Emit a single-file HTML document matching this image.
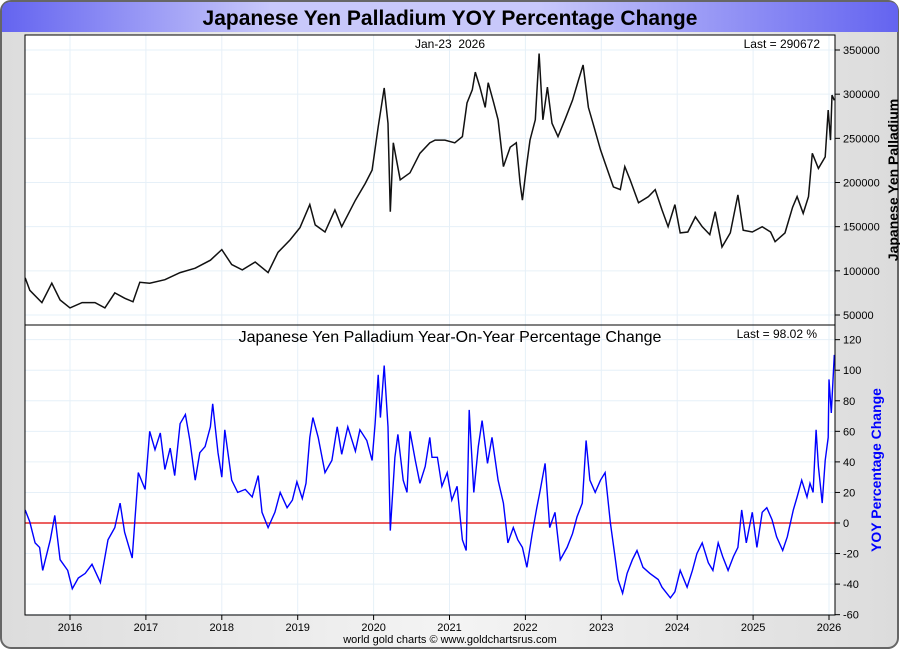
<!DOCTYPE html>
<html><head><meta charset="utf-8"><style>
body{margin:0;width:900px;height:650px;overflow:hidden;background:#fff;font-family:"Liberation Sans",sans-serif}
</style></head><body>
<svg id="chart" width="900" height="650" xmlns="http://www.w3.org/2000/svg" font-family="Liberation Sans, sans-serif">
<defs>
<linearGradient id="bg" x1="0" x2="1" y1="0" y2="0"><stop offset="0" stop-color="#dcdcdc"/><stop offset="0.5" stop-color="#f4f4f4"/><stop offset="1" stop-color="#dcdcdc"/></linearGradient>
<linearGradient id="tb" x1="0" x2="1" y1="0" y2="0"><stop offset="0" stop-color="#6464f0"/><stop offset="0.3" stop-color="#c8c8fa"/><stop offset="0.6" stop-color="#c8c8fa"/><stop offset="1" stop-color="#6464f0"/></linearGradient>
</defs>
<rect x="1" y="1" width="897" height="647" rx="10" fill="url(#bg)" stroke="#666" stroke-width="2"/>
<path d="M2,32 L2,11 Q2,2 11,2 L889,2 Q898,2 898,11 L898,32 Z" fill="url(#tb)"/>
<text x="450" y="25" text-anchor="middle" font-size="21" font-weight="bold" fill="#000">Japanese Yen Palladium YOY Percentage Change</text>
<rect x="25" y="35" width="810" height="580" fill="#fff"/>
<g id="grid"></g>
<g id="series"></g>
<rect x="25" y="35" width="810" height="580" fill="none" stroke="#000" stroke-width="1"/>
<line x1="25" y1="325" x2="835" y2="325" stroke="#000"/>
<g id="axes" font-size="11" fill="#000"></g>
<text x="450" y="48" text-anchor="middle" font-size="12">Jan-23&#160;&#160;2026</text>
<text x="820" y="48" text-anchor="end" font-size="12">Last = 290672</text>
<text x="450" y="342" text-anchor="middle" font-size="16">Japanese Yen Palladium Year-On-Year Percentage Change</text>
<text x="817" y="338" text-anchor="end" font-size="12">Last = 98.02 %</text>
<text transform="translate(898,180) rotate(-90)" text-anchor="middle" font-size="14" font-weight="bold" fill="#000">Japanese Yen Palladium</text>
<text transform="translate(881,470) rotate(-90)" text-anchor="middle" font-size="14" font-weight="bold" fill="#0000ff">YOY Percentage Change</text>
<text x="450" y="643" text-anchor="middle" font-size="11" fill="#000">world gold charts © www.goldchartsrus.com</text>
</svg>
<script>
const priceDates=[2015.41,2015.47,2015.63,2015.76,2015.87,2016.00,2016.16,2016.33,2016.46,2016.59,2016.72,2016.83,2016.92,2017.05,2017.25,2017.45,2017.65,2017.85,2018.00,2018.13,2018.27,2018.44,2018.61,2018.74,2018.90,2019.03,2019.16,2019.23,2019.36,2019.49,2019.58,2019.76,2019.89,2019.98,2020.06,2020.14,2020.19,2020.22,2020.26,2020.35,2020.48,2020.61,2020.74,2020.81,2020.94,2021.07,2021.17,2021.23,2021.30,2021.34,2021.40,2021.47,2021.51,2021.58,2021.64,2021.71,2021.80,2021.88,2021.93,2021.96,2022.02,2022.06,2022.13,2022.18,2022.23,2022.29,2022.35,2022.43,2022.52,2022.62,2022.70,2022.76,2022.83,2022.89,2022.99,2023.05,2023.16,2023.25,2023.31,2023.38,2023.49,2023.62,2023.71,2023.80,2023.88,2023.97,2024.04,2024.14,2024.24,2024.33,2024.43,2024.50,2024.59,2024.70,2024.80,2024.87,2024.99,2025.12,2025.23,2025.29,2025.42,2025.52,2025.58,2025.66,2025.73,2025.78,2025.86,2025.95,2025.99,2026.02,2026.04,2026.07];
const priceValues=[92000,78000,64000,86000,67000,58000,64000,64000,58000,75000,69000,65000,87000,86000,90000,98000,103000,112000,124000,107000,101000,110000,98000,121000,135000,149000,175000,152000,144000,169000,150000,180000,199000,214000,263000,307000,267000,167000,245000,203000,211000,233000,245000,248000,248000,245000,252000,290000,305000,325000,308000,285000,313000,291000,271000,218000,240000,245000,199000,180000,222000,248000,271000,346000,271000,308000,267000,252000,271000,293000,316000,333000,285000,267000,237000,222000,195000,192000,218000,203000,177000,184000,192000,169000,150000,175000,143000,144000,161000,150000,141000,167000,127000,143000,186000,146000,144000,150000,144000,133000,143000,172000,184000,165000,184000,233000,216000,229000,282000,248000,299000,293000];
const yoyDates=[2015.41,2015.47,2015.54,2015.60,2015.64,2015.74,2015.80,2015.87,2015.97,2016.03,2016.11,2016.20,2016.29,2016.40,2016.50,2016.59,2016.66,2016.72,2016.82,2016.90,2016.99,2017.05,2017.12,2017.19,2017.25,2017.32,2017.38,2017.45,2017.52,2017.58,2017.65,2017.71,2017.78,2017.85,2017.88,2017.95,2018.00,2018.04,2018.13,2018.21,2018.31,2018.40,2018.48,2018.53,2018.61,2018.70,2018.77,2018.86,2018.93,2018.99,2019.06,2019.11,2019.16,2019.20,2019.27,2019.36,2019.45,2019.52,2019.58,2019.66,2019.76,2019.82,2019.91,2019.98,2020.02,2020.06,2020.09,2020.14,2020.19,2020.22,2020.28,2020.32,2020.39,2020.44,2020.48,2020.55,2020.61,2020.68,2020.74,2020.77,2020.84,2020.90,2020.97,2021.03,2021.10,2021.17,2021.22,2021.26,2021.32,2021.38,2021.43,2021.50,2021.56,2021.64,2021.71,2021.77,2021.84,2021.90,2021.96,2022.02,2022.09,2022.15,2022.19,2022.26,2022.32,2022.39,2022.46,2022.55,2022.62,2022.68,2022.75,2022.80,2022.85,2022.92,2022.99,2023.05,2023.12,2023.18,2023.22,2023.28,2023.34,2023.41,2023.47,2023.55,2023.64,2023.75,2023.80,2023.91,2023.97,2024.04,2024.13,2024.20,2024.26,2024.33,2024.41,2024.47,2024.54,2024.60,2024.67,2024.74,2024.80,2024.85,2024.91,2024.99,2025.05,2025.12,2025.18,2025.25,2025.31,2025.39,2025.45,2025.53,2025.58,2025.64,2025.71,2025.75,2025.79,2025.83,2025.86,2025.91,2025.95,2025.99,2026.00,2026.03,2026.07];
const yoyValues=[8.5,0.7,-13,-16,-31,-11,5,-24,-31,-43,-36,-33,-27,-39,-11,-3,13,-6,-23,33,22,60,48,59,35,49,31,65,71,54,28,46,50,63,78,46,30,61,28,20,22,17,31,7,-3,7,20,10,15,27,16,26,56,69,56,33,41,63,45,63,47,61,54,41,65,97,69,103,63,-5,43,58,28,20,60,41,26,37,56,43,43,24,33,15,24,-11,-18,74,20,50,67,39,56,28,13,-13,-3,-11,-16,-29,-7,10,20,39,-3,7,-24,-16,-7,4,13,54,28,20,28,33,0,-22,-37,-46,-33,-24,-18,-29,-33,-37,-42,-49,-45,-31,-42,-31,-20,-13,-26,-31,-13,-22,-31,-22,-16,8.5,-13,7,-16,7,10,2,-9,-18,-9,8.5,17,28,17,26,20,61,37,13,41,56,94,72,110,96];
const yearTicks=[2016,2017,2018,2019,2020,2021,2022,2023,2024,2025,2026];
const priceTicks=[50000,100000,150000,200000,250000,300000,350000];
const yoyTicks=[-60,-40,-20,0,20,40,60,80,100,120];

const NS='http://www.w3.org/2000/svg';
const xS=t=>70+(t-2016)*75.9;
const yP=v=>315-(v-50000)*(265/300000);
const yY=v=>523-v*(275/180);
function mk(tag,attrs,parent){const e=document.createElementNS(NS,tag);for(const k in attrs)e.setAttribute(k,attrs[k]);parent.appendChild(e);return e;}
const grid=document.getElementById('grid'),series=document.getElementById('series'),axes=document.getElementById('axes');
yearTicks.forEach(y=>{
  const x=xS(y);
  const g=mk('line',{x1:x,x2:x,y1:35,y2:615,stroke:'#e6f0f8'},grid);
  
  
  const tk=mk('line',{x1:x,x2:x,y1:615,y2:620,stroke:'#000'},axes);
  
  
  const t=mk('text',{x:x,y:631,'text-anchor':'middle'},axes);t.textContent=y;
  
  
});
priceTicks.forEach(v=>{
  const y=yP(v);
  const g=mk('line',{x1:25,x2:835,y1:y,y2:y,stroke:'#e6f0f8'},grid);
  
  
  const tk=mk('line',{x1:835,x2:840,y1:y,y2:y,stroke:'#000'},axes);
  
  
  const t=mk('text',{x:843,y:y+4},axes);t.textContent=v;
  
  
});
yoyTicks.forEach(v=>{
  const y=yY(v);
  const g=mk('line',{x1:25,x2:835,y1:y,y2:y,stroke:'#e6f0f8'},grid);
  
  
  const tk=mk('line',{x1:835,x2:840,y1:y,y2:y,stroke:'#000'},axes);
  
  
  const t=mk('text',{x:843,y:y+4},axes);t.textContent=v;
  
  
});
const zl=mk('line',{x1:25,x2:835,y1:yY(0),y2:yY(0),stroke:'#e00000','stroke-width':1.2},series);


const pp=mk('polyline',{points:priceDates.map((d,i)=>xS(d).toFixed(1)+','+yP(priceValues[i]).toFixed(1)).join(' '),fill:'none',stroke:'#111','stroke-width':1.5},series);


const yl=mk('polyline',{points:yoyDates.map((d,i)=>xS(d).toFixed(1)+','+yY(yoyValues[i]).toFixed(1)).join(' '),fill:'none',stroke:'#0000ff','stroke-width':1.4},series);


</script>
</body></html>
